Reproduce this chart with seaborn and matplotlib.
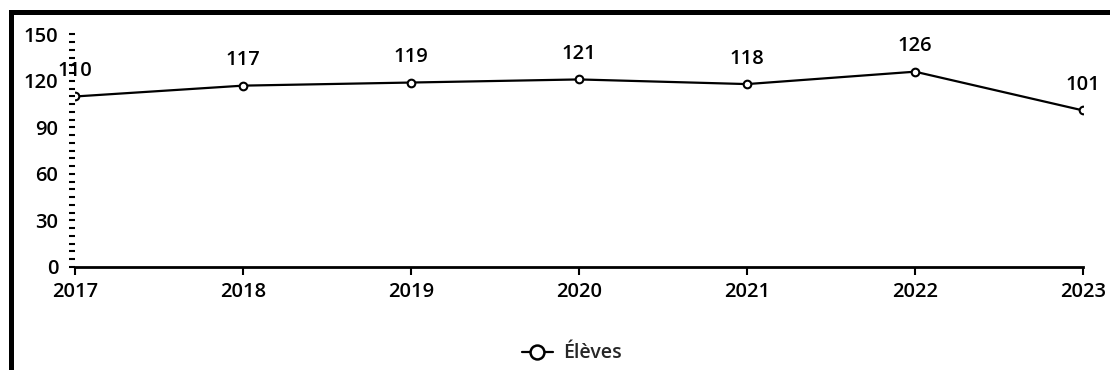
import matplotlib
matplotlib.use("Agg")
import matplotlib.pyplot as plt
from matplotlib.lines import Line2D
from matplotlib.ticker import MultipleLocator
import pandas as pd
import seaborn as sns

# Effectifs d'élèves par année
annees = [2017, 2018, 2019, 2020, 2021, 2022, 2023]
eleves = [110, 117, 119, 121, 118, 126, 101]
serie = "Élèves"
y_ticks = [0, 30, 60, 90, 120, 150]

df = pd.DataFrame({"annee": annees, "eleves": eleves})

sns.set_theme(style="white")
plt.rcParams["font.family"] = ["Open Sans", "DejaVu Sans"]
plt.rcParams["font.weight"] = "semibold"

fig = plt.figure(figsize=(11.1, 3.7), dpi=100)
ax = fig.add_axes([0.0676, 0.2784, 0.9081, 0.6284])

sns.lineplot(data=df, x="annee", y="eleves", ax=ax, color="black",
             linewidth=1.6, marker="o", markersize=5.5,
             markerfacecolor="white", markeredgecolor="black",
             markeredgewidth=1.5, legend=False)

for x, y in zip(annees, eleves):
    ax.annotate(str(y), (x, y), xytext=(0, 11), textcoords="offset points",
                ha="center", va="bottom", fontsize=14.5, color="black",
                fontweight="semibold")

ax.set_xlim(annees[0], annees[-1])
ax.set_ylim(0, 150)
ax.set_xticks(annees)
ax.set_xticklabels([str(a) for a in annees], fontweight="semibold")
ax.set_yticks(y_ticks)
ax.set_yticklabels([str(v) for v in y_ticks], fontweight="semibold")
ax.yaxis.set_minor_locator(MultipleLocator(5))
ax.set_xlabel("")
ax.set_ylabel("")

for side in ["top", "right", "left"]:
    ax.spines[side].set_visible(False)
ax.spines["bottom"].set_color("black")
ax.spines["bottom"].set_linewidth(2)

ax.tick_params(axis="x", which="major", direction="out", length=6, width=1.5,
               colors="black", labelsize=14.5, pad=5, bottom=True)
ax.tick_params(axis="y", which="major", direction="out", length=4, width=1.5,
               colors="black", labelsize=14.5, pad=8, left=True)
ax.tick_params(axis="y", which="minor", direction="out", length=4, width=1.5,
               colors="black", left=True)

handle = Line2D([], [], color="black", linewidth=1.6, marker="o",
                markersize=10, markerfacecolor="white",
                markeredgecolor="black", markeredgewidth=1.8)
fig.legend([handle], [serie], loc="center", bbox_to_anchor=(0.515, 0.045),
           frameon=False, fontsize=14, handlelength=1.6, handletextpad=0.5,
           prop={"weight": "semibold", "size": 14})

# cadre épais en haut et à gauche
fig.add_artist(Line2D([0.0099, 0.0099], [0.0, 0.9676], transform=fig.transFigure,
                      color="black", linewidth=3.6, solid_capstyle="projecting"))
fig.add_artist(Line2D([0.0099, 1.0], [0.9676, 0.9676], transform=fig.transFigure,
                      color="black", linewidth=3.6, solid_capstyle="projecting"))

fig.savefig("out.png", dpi=100, facecolor="white")
